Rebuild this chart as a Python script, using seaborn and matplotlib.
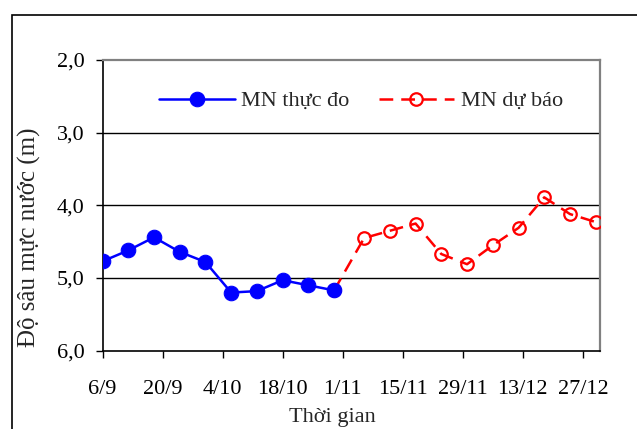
import matplotlib
matplotlib.use("Agg")
import matplotlib.pyplot as plt
import matplotlib.patches as mpatches
import pandas as pd
import seaborn as sns

# ---- data ----
blue_dates = ["2010-09-06", "2010-09-12", "2010-09-18", "2010-09-24", "2010-09-30",
              "2010-10-06", "2010-10-12", "2010-10-18", "2010-10-24", "2010-10-30"]
blue_vals = [4.77, 4.62, 4.44, 4.64, 4.78, 5.20, 5.18, 5.03, 5.10, 5.17]

red_dates = ["2010-10-30", "2010-11-06", "2010-11-12", "2010-11-18", "2010-11-24",
             "2010-11-30", "2010-12-06", "2010-12-12", "2010-12-18", "2010-12-24",
             "2010-12-30"]
red_vals = [5.17, 4.45, 4.35, 4.25, 4.67, 4.81, 4.55, 4.31, 3.89, 4.12, 4.23]

xtick_dates = ["2010-09-06", "2010-09-20", "2010-10-04", "2010-10-18", "2010-11-01",
               "2010-11-15", "2010-11-29", "2010-12-13", "2010-12-27"]
xtick_labels = ["6/9", "20/9", "4/10", "18/10", "1/11", "15/11", "29/11", "13/12", "27/12"]
ytick_vals = [2, 3, 4, 5, 6]
ytick_labels = ["2,0", "3,0", "4,0", "5,0", "6,0"]

blue_label = "MN thực đo"
red_label = "MN dự báo"
x_title = "Thời gian"
y_title = "Độ sâu mực nước (m)"

# ---- style ----
sns.set_theme(style="white")
plt.rcParams["font.family"] = ["Liberation Serif", "DejaVu Serif"]
FS = 16

W, H = 637, 429
fig = plt.figure(figsize=(W / 100, H / 100), dpi=100)
fig.patch.set_facecolor("white")

left, right, top, bottom = 102.5, 600, 60, 350.7
ax = fig.add_axes([left / W, 1 - bottom / H, (right - left) / W, (bottom - top) / H])
ax.set_facecolor("white")

df_blue = pd.DataFrame({"date": pd.to_datetime(blue_dates), "val": blue_vals})
df_red = pd.DataFrame({"date": pd.to_datetime(red_dates), "val": red_vals})

sns.lineplot(data=df_red, x="date", y="val", ax=ax, color="#ff0000",
             linewidth=1.8, dashes=False, linestyle=(0, (5.5, 3.2)),
             marker="o", markersize=9, markerfacecolor="none",
             markeredgecolor="#ff0000", markeredgewidth=1.6,
             label=red_label, zorder=3)
sns.lineplot(data=df_blue, x="date", y="val", ax=ax, color="#0000ff",
             linewidth=1.8, marker="o", markersize=10.5,
             markerfacecolor="#0000ff", markeredgecolor="#0000ff",
             label=blue_label, zorder=4)

ax.set_xlim(pd.Timestamp("2010-09-06"), pd.Timestamp("2010-12-31"))
ax.set_ylim(6, 2)

ax.set_xticks(pd.to_datetime(xtick_dates))
ax.set_xticklabels(xtick_labels)
ax.set_yticks(ytick_vals)
ax.set_yticklabels(ytick_labels)
ax.tick_params(axis="both", labelsize=FS, colors="black", direction="out",
               length=5, width=1.0, left=True, bottom=True)
ax.tick_params(axis="x", pad=16)
ax.tick_params(axis="y", pad=8)

for v in [3, 4, 5]:
    ax.axhline(v, color="black", linewidth=1.0, zorder=1)

ax.set_xlabel("")
ax.set_ylabel("")
for side in ["left", "bottom"]:
    ax.spines[side].set_color("black")
    ax.spines[side].set_linewidth(1.2)
for side in ["top", "right"]:
    ax.spines[side].set_color("#808080")
    ax.spines[side].set_linewidth(1.6)

# legend (blue first)
handles, labels = ax.get_legend_handles_labels()
order = [labels.index(blue_label), labels.index(red_label)]
ax.legend([handles[i] for i in order], [labels[i] for i in order],
          loc="center", bbox_to_anchor=(361 / W, 1 - 101 / H),
          bbox_transform=fig.transFigure, ncol=2, frameon=False,
          fontsize=FS, handlelength=3.4, handletextpad=0.3,
          columnspacing=1.3)

fig.text(29 / W, 1 - 237 / H, y_title, rotation=90, ha="center", va="center",
         fontsize=18)
fig.text(332 / W, 1 - 422 / H, x_title, ha="center", va="baseline", fontsize=FS)

# outer chart-area border (extends past right/bottom edge)
rect = mpatches.Rectangle((12 / W, -0.2), 1.2, (1 - 14.5 / H) + 0.2,
                          transform=fig.transFigure, fill=False,
                          edgecolor="black", linewidth=1.2, clip_on=False)
fig.patches.append(rect)

fig.savefig("out.png", dpi=100, facecolor="white")
